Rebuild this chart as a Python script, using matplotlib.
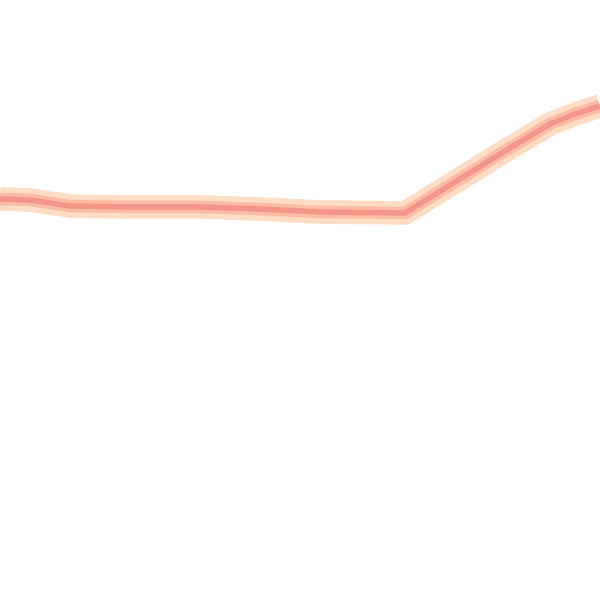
import matplotlib
matplotlib.use('Agg')
import matplotlib.pyplot as plt

# values (x position, level)
x_vals = [0, 30, 70, 130, 200, 260, 320, 405, 455, 505, 550, 575, 600]
y_vals = [199, 200, 206, 207, 207, 209, 212, 213, 182, 151, 124, 114, 106]

halo_color = '#FFDCC4'
mid_color = '#FCBCA3'
core_color = '#F4958A'

fig = plt.figure(figsize=(6, 6), dpi=100)
ax = fig.add_axes([0, 0, 1, 1])

ax.plot(x_vals, y_vals, color=halo_color, lw=17, solid_capstyle='butt', solid_joinstyle='round')
ax.plot(x_vals, y_vals, color=mid_color, lw=9, solid_capstyle='butt', solid_joinstyle='round')
ax.plot(x_vals, y_vals, color=core_color, lw=4, solid_capstyle='butt', solid_joinstyle='round')

ax.set_xlim(0, 600)
ax.set_ylim(600, 0)
ax.axis('off')

fig.savefig('out.png', dpi=100, facecolor='white')
